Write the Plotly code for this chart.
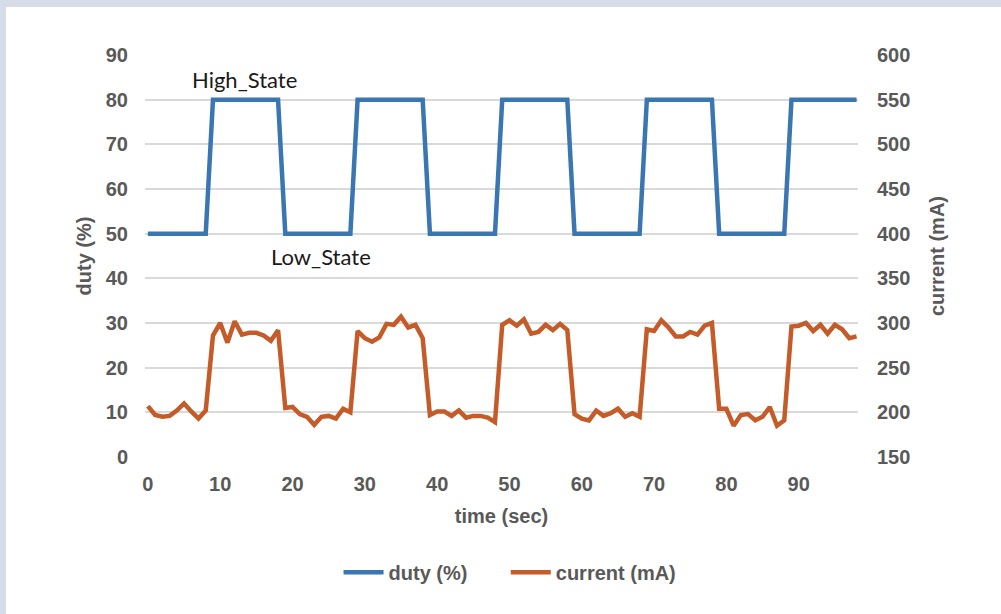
import plotly.graph_objects as go

# time axis (sec)
time_sec = list(range(99))

# duty cycle (%) - square wave between low and high state
duty_pct = ([50] * 9 + [80] * 10 + [50] * 10 + [80] * 10 + [50] * 10 +
            [80] * 10 + [50] * 10 + [80] * 10 + [50] * 10 + [80] * 10)

# measured current (mA)
current_ma = [
    207, 197, 195, 196, 202, 210, 201, 193, 202, 286,
    300, 278, 302, 287, 289, 289, 286, 280, 292, 205,
    206, 198, 195, 186, 195, 196, 193, 204, 200, 291,
    283, 279, 284, 299, 298, 307, 295, 298, 283, 197,
    201, 201, 196, 202, 194, 196, 196, 194, 189, 298,
    303, 297, 304, 288, 290, 298, 292, 299, 292, 198,
    193, 191, 202, 196, 199, 204, 195, 199, 195, 293,
    291, 303, 295, 285, 285, 290, 287, 297, 300, 204,
    204, 185, 197, 198, 191, 195, 206, 185, 191, 296,
    297, 300, 291, 298, 288, 298, 293, 283, 285,
]

x_ticks = [0, 10, 20, 30, 40, 50, 60, 70, 80, 90]
duty_ticks = [0, 10, 20, 30, 40, 50, 60, 70, 80, 90]
current_ticks = [150, 200, 250, 300, 350, 400, 450, 500, 550, 600]

BLUE = "#3a76b2"
ORANGE = "#c45b28"
GREY = "#595959"
FRAME = "#d6dde9"

tick_font = dict(family="Liberation Sans", size=20, color=GREY, weight="bold")
pad = "\u00a0" * 6  # extra room between the two legend entries

fig = go.Figure()
fig.add_trace(go.Scatter(x=time_sec, y=duty_pct, name="duty (%)" + pad, mode="lines",
                         line=dict(color=BLUE, width=4.5)))
fig.add_trace(go.Scatter(x=time_sec, y=current_ma, name="current (mA)", mode="lines",
                         line=dict(color=ORANGE, width=4.5), yaxis="y2"))

fig.update_layout(
    width=1001, height=614,
    margin=dict(l=145, r=143, t=55, b=157),
    paper_bgcolor=FRAME,
    plot_bgcolor="white",
    xaxis=dict(range=[-0.4, 98.2], tickvals=x_ticks, showgrid=False, zeroline=False,
               showline=False, ticks="", tickfont=tick_font, ticklabelstandoff=13,
               title=dict(text="time (sec)", font=tick_font, standoff=14)),
    yaxis=dict(range=[0, 90], tickvals=duty_ticks, gridcolor="#d9d9d9", gridwidth=1.5,
               zeroline=False, showline=False, ticks="", tickfont=tick_font,
               ticklabelstandoff=16,
               title=dict(text="duty (%)", font=tick_font, standoff=8)),
    yaxis2=dict(range=[150, 600], tickvals=current_ticks, overlaying="y", side="right",
                showgrid=False, zeroline=False, showline=False, ticks="",
                tickfont=tick_font, ticklabelstandoff=18,
                title=dict(text="current (mA)", font=tick_font, standoff=20)),
    legend=dict(orientation="h", x=0.512, xanchor="center", y=-0.287, yanchor="middle",
                font=tick_font, bgcolor="rgba(0,0,0,0)", itemwidth=40),
    shapes=[dict(type="rect", xref="paper", yref="paper", x0=-0.195, x1=1.25,
                 y0=-0.45, y1=1.1194, fillcolor="white", line=dict(width=0),
                 layer="below")],
    annotations=[
        dict(text="High_State", x=13.4, y=84.6, xref="x", yref="y", showarrow=False,
             font=dict(family="Lato", size=22, color="#1a1a1a")),
        dict(text="Low_State", x=23.9, y=45.0, xref="x", yref="y", showarrow=False,
             font=dict(family="Lato", size=22, color="#1a1a1a")),
    ],
)

# drop the default page margin so the figure sits at the window corner
fig.write_html("out.html", config={"displayModeBar": False},
               post_script="document.body.style.margin='0';")
